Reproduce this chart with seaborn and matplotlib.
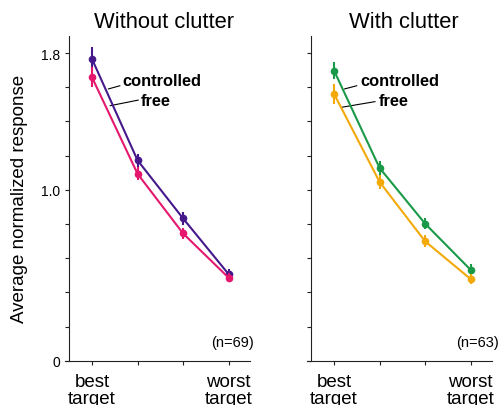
import numpy as np
import pandas as pd
import matplotlib
matplotlib.use("Agg")
import matplotlib.pyplot as plt
import seaborn as sns

# ---- data ----
rank = [0, 1, 2, 3]
xtick_labels = ["best\ntarget", "", "", "worst\ntarget"]

noclut_controlled = [1.765, 1.173, 0.833, 0.507]
noclut_controlled_err = [0.068, 0.039, 0.037, 0.029]
noclut_free = [1.658, 1.094, 0.745, 0.486]
noclut_free_err = [0.059, 0.039, 0.033, 0.027]

clut_controlled = [1.697, 1.128, 0.802, 0.532]
clut_controlled_err = [0.049, 0.039, 0.032, 0.034]
clut_free = [1.561, 1.046, 0.699, 0.478]
clut_free_err = [0.058, 0.039, 0.034, 0.029]

titles = ["Without clutter", "With clutter"]
n_labels = ["(n=69)", "(n=63)"]
ytick_vals = [0, 0.2, 0.4, 0.6, 0.8, 1.0, 1.2, 1.4, 1.6, 1.8]
ytick_labels = ["0", "", "", "", "", "1.0", "", "", "", "1.8"]

sns.set_style("ticks")
plt.rcParams["font.family"] = ["Liberation Sans", "DejaVu Sans"]
plt.rcParams["axes.edgecolor"] = "#222222"
plt.rcParams["xtick.color"] = "#222222"
plt.rcParams["ytick.color"] = "#222222"
plt.rcParams["xtick.labelcolor"] = "black"
plt.rcParams["ytick.labelcolor"] = "black"
plt.rcParams["text.color"] = "black"
plt.rcParams["axes.labelcolor"] = "black"
plt.rcParams["axes.titlecolor"] = "black"

fig = plt.figure(figsize=(4.99, 4.06), dpi=100)
ax1 = fig.add_axes([0.1297, 0.1091, 0.3720, 0.7998])
ax2 = fig.add_axes([0.6148, 0.1091, 0.3720, 0.7998])

panels = [
    (ax1, noclut_controlled, noclut_controlled_err, noclut_free, noclut_free_err,
     "#45198c", "#e5186e"),
    (ax2, clut_controlled, clut_controlled_err, clut_free, clut_free_err,
     "#1a9a48", "#f3a90a"),
]

annot = [
    # (controlled text xy, leader from, leader to, free text xy, leader from, leader to)
    ((0.675, 1.638), (0.358, 1.590), (0.615, 1.609),
     (1.07, 1.521), (0.396, 1.492), (1.018, 1.525)),
    ((0.573, 1.642), (0.227, 1.590), (0.50, 1.609),
     (0.976, 1.521), (0.17, 1.483), (0.903, 1.516)),
]
title_x = [0.536, 0.522]

for i, (ax, c, ce, f, fe, cc, fc) in enumerate(panels):
    for vals, errs, col in [(c, ce, cc), (f, fe, fc)]:
        df = pd.DataFrame({"rank": rank, "resp": vals})
        sns.lineplot(data=df, x="rank", y="resp", ax=ax, color=col,
                     linewidth=1.5, marker="o", markersize=5.5,
                     markeredgewidth=0, errorbar=None, zorder=3)
        ax.errorbar(rank, vals, yerr=errs, fmt="none", ecolor=col,
                    elinewidth=1.5, capsize=0, zorder=3)

    ax.set_xlim(-0.6, 3.48)
    ax.set_ylim(0, 1.9)
    ax.set_xticks(rank)
    ax.set_xticklabels(xtick_labels, fontsize=13.5, linespacing=0.95)
    ax.set_yticks(ytick_vals)
    if i == 0:
        ax.set_yticklabels(ytick_labels, fontsize=12.5)
        ax.set_ylabel("Average normalized response", fontsize=13.5)
        ax.yaxis.set_label_coords(-0.197, 0.5)
    else:
        ax.set_yticklabels([])
        ax.set_ylabel("")
    ax.set_xlabel("")
    sns.despine(ax=ax)
    ax.spines["left"].set_position(("data", -0.5))
    ax.spines["left"].set_linewidth(0.8)
    ax.spines["bottom"].set_linewidth(0.8)
    ax.tick_params(axis="both", length=3, width=0.8, direction="out")
    ax.tick_params(axis="y", pad=3.5)
    ax.tick_params(axis="x", pad=6)
    ax.set_title(titles[i], fontsize=15.8, x=title_x[i], pad=6.5)

    ctxt, cl0, cl1, ftxt, fl0, fl1 = annot[i]
    ax.text(ctxt[0], ctxt[1], "controlled", fontsize=11.8, fontweight="bold",
            ha="left", va="center")
    ax.plot([cl0[0], cl1[0]], [cl0[1], cl1[1]], color="black", lw=0.8)
    ax.text(ftxt[0], ftxt[1], "free", fontsize=11.8, fontweight="bold",
            ha="left", va="center")
    ax.plot([fl0[0], fl1[0]], [fl0[1], fl1[1]], color="black", lw=0.8)

    nx = 3.567 if i == 0 else 3.62
    ax.text(nx, 0.11, n_labels[i], fontsize=10.5, ha="right", va="center",
            clip_on=False)

fig.savefig("out.png", dpi=100)
